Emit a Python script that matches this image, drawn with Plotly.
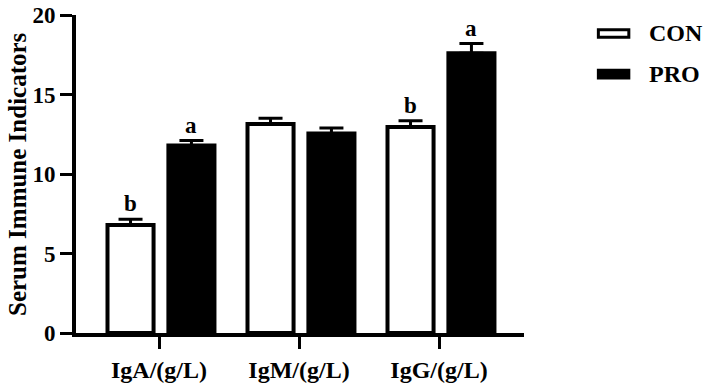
import plotly.graph_objects as go

categories = ["IgA/(g/L)", "IgM/(g/L)", "IgG/(g/L)"]
con_values = [6.8, 13.15, 12.95]
con_errors = [0.35, 0.35, 0.4]
pro_values = [11.8, 12.55, 17.6]
pro_errors = [0.3, 0.35, 0.6]
con_letters = ["b", "", "b"]
pro_letters = ["a", "", "a"]
series_names = ["CON", "PRO"]
y_ticks = [0, 5, 10, 15, 20]
y_title = "Serum Immune Indicators"

FONT = "Liberation Serif"
W = 0.329
OFF_CON = -0.368
OFF_PRO = 0.067

fig = go.Figure()
fig.add_trace(go.Bar(
    x=categories, y=con_values, name=series_names[0],
    width=W, offset=OFF_CON,
    marker=dict(color="white", line=dict(color="black", width=4)),
    error_y=dict(type="data", symmetric=False, array=con_errors,
                 arrayminus=[0] * len(con_errors), visible=True,
                 color="black", thickness=3, width=12),
    showlegend=False,
))
fig.add_trace(go.Bar(
    x=categories, y=pro_values, name=series_names[1],
    width=W, offset=OFF_PRO,
    marker=dict(color="black", line=dict(color="black", width=4)),
    error_y=dict(type="data", symmetric=False, array=pro_errors,
                 arrayminus=[0] * len(pro_errors), visible=True,
                 color="black", thickness=3, width=12),
    showlegend=False,
))

# significance letters
for i, c in enumerate(categories):
    for letters, vals, errs, off in ((con_letters, con_values, con_errors, OFF_CON),
                                     (pro_letters, pro_values, pro_errors, OFF_PRO)):
        if letters[i]:
            fig.add_annotation(
                x=i + off + W / 2, y=vals[i] + errs[i], xref="x", yref="y",
                text=letters[i], showarrow=False, yanchor="bottom", yshift=1,
                font=dict(family=FONT, size=23, color="black", weight="bold"),
            )

# custom legend
leg_y = [0.942, 0.814]
styles = [("white", 3), ("black", 3)]
for name, yc, (fill, lw) in zip(series_names, leg_y, styles):
    fig.add_shape(type="rect", xref="paper", yref="paper",
                  x0=1.166, x1=1.234, y0=yc - 0.012, y1=yc + 0.012,
                  fillcolor=fill, line=dict(color="black", width=lw))
    fig.add_annotation(x=1.274, y=yc, xref="paper", yref="paper",
                       text=name, showarrow=False, xanchor="left", yanchor="middle",
                       font=dict(family=FONT, size=24, color="black", weight="bold"))

# y-axis title
fig.add_annotation(x=-0.1317, y=0.5, xref="paper", yref="paper",
                   text=y_title, textangle=-90, showarrow=False,
                   xanchor="center", yanchor="middle",
                   font=dict(family=FONT, size=25, color="black", weight="bold"))

fig.update_layout(
    width=709, height=385,
    margin=dict(l=76, r=185, t=15, b=52, autoexpand=False),
    plot_bgcolor="white", paper_bgcolor="white",
    barmode="overlay",
    font=dict(family=FONT, size=22, color="black", weight="bold"),
)
fig.update_xaxes(
    type="category", range=[-0.593, 2.607], automargin=False,
    showline=True, linecolor="black", linewidth=4,
    ticks="outside", ticklen=12, tickwidth=3, tickcolor="black",
    showgrid=False, zeroline=False,
    tickfont=dict(family=FONT, size=24, color="black", weight="bold"),
)
fig.update_yaxes(
    range=[0, 20], tickvals=y_ticks, automargin=False,
    showline=True, linecolor="black", linewidth=4,
    ticks="outside", ticklen=12, tickwidth=3, tickcolor="black",
    showgrid=False, zeroline=False,
    tickfont=dict(family=FONT, size=23, color="black", weight="bold"),
)

fig.write_html(
    "out.html",
    config={"displayModeBar": False},
    post_script="document.body.style.margin='0';document.body.style.overflow='hidden';",
)
